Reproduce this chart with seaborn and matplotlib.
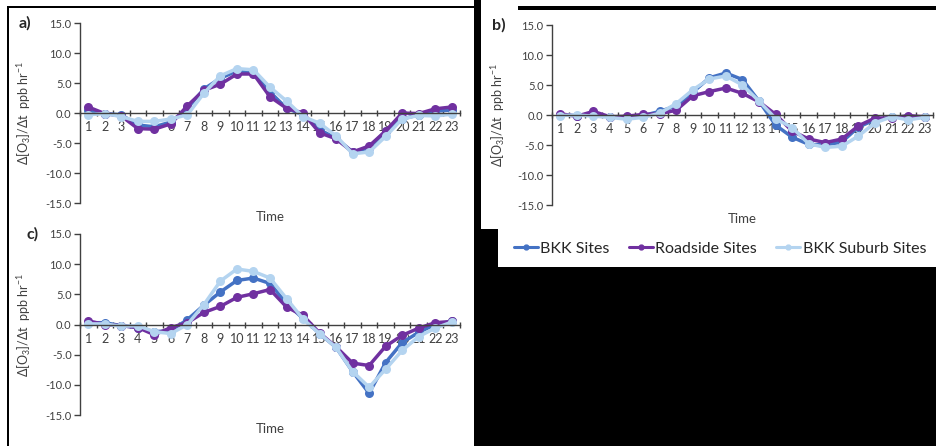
import matplotlib
matplotlib.use("Agg")

import numpy as np
import pandas as pd
import matplotlib.pyplot as plt
import seaborn as sns
from matplotlib.patches import Rectangle
from matplotlib.ticker import FormatStrFormatter, FixedLocator

# ── Data ─────────────────────────────────────────────────────────────────────
hours = list(range(1, 24))
series_names = ["BKK Sites", "Roadside Sites", "BKK Suburb Sites"]

a_bkk = [0.5, -0.1, -0.3, -2.0, -2.3, -1.5, 0.8, 4.0, 5.8, 7.0, 6.8, 3.5,
         0.8, -0.3, -2.8, -4.2, -6.5, -5.8, -3.0, -1.0, -0.3, 0.3, 0.5]
a_road = [1.0, -0.1, -0.5, -2.6, -2.7, -1.8, 1.2, 3.8, 4.8, 6.5, 6.5, 2.7,
          0.8, 0.0, -3.3, -4.3, -6.5, -5.5, -3.0, 0.0, -0.1, 0.7, 1.0]
a_sub = [-0.3, -0.1, -0.6, -1.4, -1.4, -1.0, -0.3, 3.3, 6.2, 7.4, 7.2, 4.3,
         2.0, -0.6, -1.7, -3.8, -6.8, -6.5, -3.9, -1.0, -0.4, -0.5, -0.2]

b_bkk = [0.0, -0.1, 0.2, -0.3, -0.4, -0.1, 0.6, 1.5, 3.8, 6.2, 7.0, 5.9,
         2.3, -1.7, -3.7, -4.9, -5.0, -4.5, -2.0, -0.8, -0.4, -0.3, -0.3]
b_road = [0.2, -0.2, 0.6, -0.3, -0.2, 0.1, 0.2, 0.8, 3.2, 3.9, 4.5, 3.6,
          2.2, 0.1, -2.7, -4.0, -4.6, -4.0, -1.8, -0.5, -0.5, -0.1, -0.3]
b_sub = [-0.1, 0.0, -0.2, -0.4, -0.7, -0.4, 0.3, 1.9, 4.2, 6.0, 6.5, 5.0,
         2.3, -0.6, -2.1, -4.8, -5.4, -5.2, -3.5, -1.3, -0.3, -0.8, -0.4]

c_bkk = [0.3, 0.3, -0.2, -0.5, -1.2, -1.0, 0.8, 3.2, 5.4, 7.3, 7.7, 6.8,
         3.5, 1.0, -1.5, -3.8, -7.8, -11.4, -6.3, -3.0, -1.3, 0.0, 0.5]
c_road = [0.6, 0.0, -0.2, -0.5, -1.7, -0.5, 0.3, 2.0, 3.0, 4.5, 5.1, 5.8,
          2.9, 1.5, -1.4, -3.7, -6.4, -6.8, -3.6, -1.8, -0.6, 0.3, 0.5]
c_sub = [0.1, 0.1, -0.3, -0.2, -1.2, -1.5, 0.0, 3.3, 7.2, 9.2, 8.8, 7.7,
         4.3, 0.9, -1.5, -3.8, -7.8, -10.4, -7.4, -4.3, -2.0, -0.6, 0.4]

panels = {
    "a)": [a_bkk, a_road, a_sub],
    "b)": [b_bkk, b_road, b_sub],
    "c)": [c_bkk, c_road, c_sub],
}
palette = {"BKK Sites": "#4472C4", "Roadside Sites": "#7030A0",
           "BKK Suburb Sites": "#B4D4F0"}

# ── Style ────────────────────────────────────────────────────────────────────
sns.set_style("white")
plt.rcParams["font.family"] = ["Lato", "DejaVu Sans"]
plt.rcParams["mathtext.default"] = "regular"
plt.rcParams["axes.unicode_minus"] = False

W, H = 937, 446
fig = plt.figure(figsize=(W / 100, H / 100), dpi=100)


def px_rect(x0, y0, x1, y1):
    # pixel box (top-left origin) -> figure fraction [left, bottom, w, h]
    return [x0 / W, 1 - y1 / H, (x1 - x0) / W, (y1 - y0) / H]


# black frame pieces of the composite image
for x0, y0, x1, y1 in [(474, 0, 481, 446), (518, 6, 937, 10),
                       (474, 229, 498, 267), (474, 267, 937, 446),
                       (7, 6, 474, 8), (7, 6, 9, 446)]:
    l, b, w, h = px_rect(x0, y0, x1, y1)
    fig.patches.append(Rectangle((l, b), w, h, transform=fig.transFigure,
                                 facecolor="black", edgecolor="none", zorder=0))

axes_px = {
    "a)": (80, 23, 460, 203),
    "b)": (552, 25, 933, 205),
    "c)": (80, 234, 460, 415),
}
label_x = {"a)": -0.145, "b)": -0.139, "c)": -0.124}
ylab_x = {"a)": -0.124, "b)": -0.118, "c)": -0.124}

for key, vals in panels.items():
    ax = fig.add_axes(px_rect(*axes_px[key]))
    df = pd.DataFrame({
        "Time": hours * 3,
        "value": vals[0] + vals[1] + vals[2],
        "Site": np.repeat(series_names, len(hours)),
    })
    sns.lineplot(data=df, x="Time", y="value", hue="Site", palette=palette,
                 hue_order=series_names, marker="o", markersize=6.5,
                 markeredgewidth=0, linewidth=2.5, legend=False, ax=ax)

    ax.set_xlim(0.5, 23.5)
    ax.set_ylim(-15, 15)
    ax.set_yticks([-15, -10, -5, 0, 5, 10, 15])
    ax.yaxis.set_major_formatter(FormatStrFormatter("%.1f"))
    ax.set_xticks(hours)
    ax.set_xticklabels([str(h) for h in hours])
    ax.xaxis.set_minor_locator(FixedLocator(np.arange(0.5, 24, 1)))

    for s in ["top", "right"]:
        ax.spines[s].set_visible(False)
    ax.spines["bottom"].set_position(("data", 0))
    for s in ["left", "bottom"]:
        ax.spines[s].set_color("#404040")
        ax.spines[s].set_linewidth(1.0)

    ax.tick_params(axis="y", which="major", direction="out", length=4,
                   width=1, color="#404040", labelsize=8, pad=2,
                   labelcolor="#404040", left=True)
    ax.tick_params(axis="x", which="major", length=0, labelsize=9,
                   pad=6, labelcolor="#404040")
    ax.tick_params(axis="x", which="minor", direction="inout", length=5,
                   width=1, color="#404040", bottom=True)

    ax.set_xlabel("Time", fontsize=9.5, color="#404040")
    ax.xaxis.set_label_coords(0.5, -0.045)
    ax.set_ylabel(r"Δ[O$_3$]/Δt  ppb hr$^{-1}$", fontsize=9, color="#404040")
    ax.yaxis.set_label_coords(ylab_x[key], 0.5)
    ax.text(label_x[key], 1.0, key, transform=ax.transAxes, ha="center",
            va="center", fontsize=11.5, fontweight="bold")

# ── Legend ───────────────────────────────────────────────────────────────────
handles = [plt.Line2D([], [], color=palette[n], marker="o", markersize=3.5,
                      linewidth=2.2) for n in series_names]
leg = fig.legend(handles, series_names, loc="center",
                 bbox_to_anchor=(720 / W, 1 - 249 / H), ncol=3, frameon=False,
                 fontsize=11.5, handlelength=1.5, handletextpad=0.15,
                 columnspacing=1.2)
for t in leg.get_texts():
    t.set_color("#262626")

fig.savefig("out.png", dpi=100)
